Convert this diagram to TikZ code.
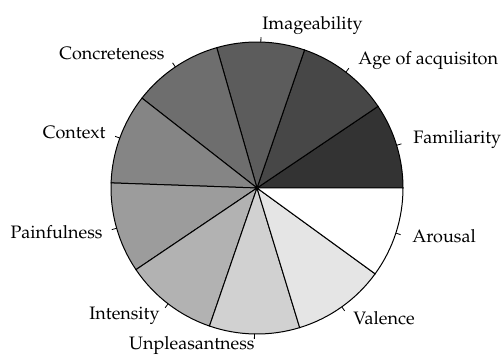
\documentclass[tikz,border=0pt]{standalone}
\usepackage[T1]{fontenc}
\usepackage{mathpazo}
\usepackage{tikz}
\tikzset{
  slice/.style={draw=black,line width=0.5pt},
  tickline/.style={line width=0.4pt},
  lab/.style={font=\fontsize{9}{10}\selectfont,inner sep=0pt},
}
\begin{document}
\begin{tikzpicture}[x=0.5pt,y=0.5pt]
\useasboundingbox (-257,-168) rectangle (244,188);
\coordinate (c) at (0,0);
% slices, darkest first
\foreach \a/\b/\g in {0/34/80,34/71/72,71/106/64,106/142/57,142/178/48,178/214/39,214/251/30,251/287/18,287/324/10,324/360/0}
{\fill[black!\g,slice] (c) -- (\a:146) arc[start angle=\a,end angle=\b,radius=146] -- cycle;}
% ticks and labels
\foreach \m/\an/\px/\py/\txt [count=\i] in {17/base west/156/44/Familiarity,52.5/base west/101/123/Age of acquisiton,88.5/base west/5/158/Imageability,124/base east/-92/128/Concreteness,160/base east/-151/49/Context,196/base east/-154/-51/Painfulness,232.5/base east/-97/-132/Intensity,269/base east/-2/-162/Unpleasantness,305.5/base west/96/-137/Valence,342/base west/155/-55/Arousal}
{\coordinate (ta\i) at (\m:146); \coordinate (tb\i) at (\m:151);
 \draw[tickline] (ta\i) -- (tb\i);
 \node[lab,anchor=\an] (lab\i) at (\px,\py) {\txt};}
\end{tikzpicture}
\end{document}
